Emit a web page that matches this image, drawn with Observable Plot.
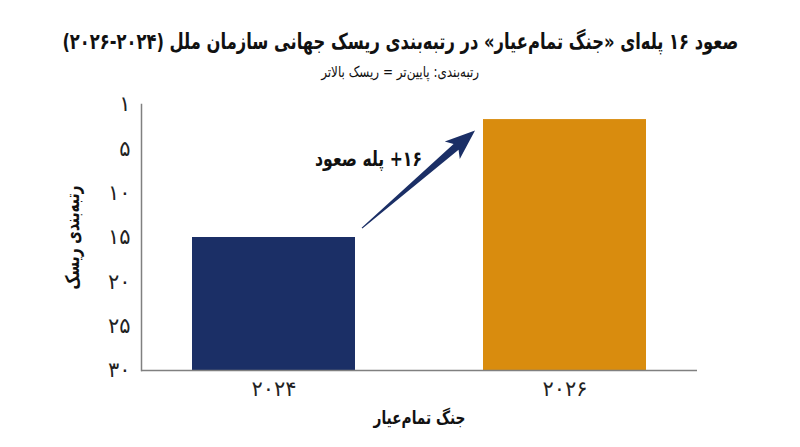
<!DOCTYPE html>
<html>
<head>
<meta charset="utf-8">
<script src="https://cdn.jsdelivr.net/npm/d3@7"></script>
<script src="https://cdn.jsdelivr.net/npm/@observablehq/plot@0.6"></script>
<style>
  html, body { margin: 0; padding: 0; background: #fff; }
  #wrap { position: relative; width: 800px; height: 447px; overflow: hidden; font-family: "DejaVu Sans", "Noto Sans", sans-serif; color: #111; }
  #title { position: absolute; left: -400px; top: 27px; width: 1600px; text-align: center; font-size: 22px; font-weight: bold; line-height: 30px; direction: rtl; white-space: nowrap; }
  #subtitle { position: absolute; left: -400px; top: 62px; width: 1600px; text-align: center; font-size: 15px; line-height: 20px; direction: rtl; white-space: nowrap; }
  #chart { position: absolute; left: 0; top: 85px; }
  .fit { display: inline-block; transform-origin: 50% 50%; }
</style>
</head>
<body>
<div id="wrap">
  <div id="title"><span class="fit" id="titleSpan"></span></div>
  <div id="subtitle"><span class="fit" id="subSpan"></span></div>
  <div id="chart"></div>
</div>
<script>
// ---- data ----
const years = ["2024", "2026"];
const yearLabels = ["۲۰۲۴", "۲۰۲۶"];
const ranks = [15, 1.7];
const barColors = ["#1b2f66", "#d98c0e"];
const baselineRank = 30;
const rankTicks = [0, 5, 10, 15, 20, 25, 30];
const rankTickLabels = ["۱", "۵", "۱۰", "۱۵", "۲۰", "۲۵", "۳۰"];
const arrowFrom = { year: "2024", rank: 14 };
const arrowTo = { year: "2026", rank: 3 };
const arrowLabel = "\u2066+۱۶\u2069 پله صعود";
const titleText = "صعود ۱۶ پله‌ای «جنگ تمام‌عیار» در رتبه‌بندی ریسک جهانی سازمان ملل (۲۰۲۴\u200F-\u200F۲۰۲۶)";
const subtitleText = "رتبه‌بندی: پایین‌تر = ریسک بالاتر";
const xLabel = "جنگ تمام‌عیار";
const yLabel = "رتبه‌بندی ریسک";

const FONT = '"DejaVu Sans", "Noto Sans", sans-serif';

// title / subtitle, horizontally fitted to the reference widths
function fitText(id, text, targetWidth) {
  const el = document.getElementById(id);
  el.textContent = text;
  const w = el.getBoundingClientRect().width;
  if (w > targetWidth) el.style.transform = "scaleX(" + (targetWidth / w).toFixed(4) + ")";
}
fitText("titleSpan", titleText, 676);
fitText("subSpan", subtitleText, 158);

const data = years.map((y, i) => ({ year: y, rank: ranks[i], color: barColors[i] }));

const plot = Plot.plot({
  width: 800,
  height: 362,
  marginTop: 19,
  marginBottom: 77,
  marginLeft: 141,
  marginRight: 103,
  style: { fontFamily: FONT, fontSize: "16px", color: "#111", background: "#fff" },
  x: { domain: years, paddingInner: 0.441, paddingOuter: 0.174, label: null },
  y: { domain: [baselineRank, 0], label: null },
  color: { type: "identity" },
  marks: [
    Plot.barY(data, { x: "year", y1: () => baselineRank, y2: "rank", fill: "color" }),
    Plot.axisX({ tickSize: 0, tickPadding: 11, fontSize: 21,
      tickFormat: d => yearLabels[years.indexOf(d)],
      label: xLabel, labelAnchor: "center", labelOffset: 53 }),
    Plot.axisY({ ticks: rankTicks, tickSize: 0, tickPadding: 11, fontSize: 21,
      tickFormat: d => rankTickLabels[rankTicks.indexOf(d)],
      label: yLabel, labelAnchor: "center", labelOffset: 76 }),
    Plot.ruleY([baselineRank], { stroke: "#808080", strokeWidth: 1.5 }),
    Plot.frame({ anchor: "left", stroke: "#808080", strokeWidth: 1.5 })
  ]
});
document.getElementById("chart").appendChild(plot);

const svg = d3.select(plot);
svg.selectAll('g[aria-label="x-axis tick label"] text, g[aria-label="y-axis tick label"] text')
  .attr("fill", "#222");
svg.selectAll('g[aria-label="x-axis label"] text')
  .attr("font-weight", "bold").attr("font-size", 18).attr("fill", "#111")
  .attr("textLength", 92).attr("lengthAdjust", "spacingAndGlyphs").text(xLabel);
svg.selectAll('g[aria-label="y-axis label"] text')
  .attr("font-weight", "bold").attr("font-size", 19).attr("fill", "#111")
  .attr("textLength", 104).attr("lengthAdjust", "spacingAndGlyphs").text(yLabel);

// ---- tapered arrow, positioned through the plot's scales ----
const sx = plot.scale("x"), sy = plot.scale("y");
const bw = sx.bandwidth;
const tx = sx.apply(arrowFrom.year) + bw + 7, ty = sy.apply(arrowFrom.rank);
const hx = sx.apply(arrowTo.year) - 8, hy = sy.apply(arrowTo.rank);
const dx = hx - tx, dy = hy - ty, len = Math.hypot(dx, dy);
const ux = dx / len, uy = dy / len, nx = -uy, ny = ux;
const headLen = 28, headHalf = 11.5, shaftHalf = 3.8, tailHalf = 0.6;
const bx = hx - ux * headLen, by = hy - uy * headLen;
const pts = [
  [tx + nx * tailHalf, ty + ny * tailHalf],
  [bx + nx * shaftHalf + ux * 3, by + ny * shaftHalf + uy * 3],
  [bx + nx * headHalf - ux * 2, by + ny * headHalf - uy * 2],
  [hx, hy],
  [bx - nx * headHalf - ux * 2, by - ny * headHalf - uy * 2],
  [bx - nx * shaftHalf + ux * 3, by - ny * shaftHalf + uy * 3],
  [tx - nx * tailHalf, ty - ny * tailHalf]
];
svg.append("path")
  .attr("d", "M" + pts.map(p => p.join(",")).join("L") + "Z")
  .attr("fill", barColors[0]);

svg.append("text")
  .attr("x", (tx + hx) / 2 - 50)
  .attr("y", (ty + hy) / 2 - 19)
  .attr("text-anchor", "middle")
  .attr("dominant-baseline", "middle")
  .style("direction", "rtl")
  .attr("font-family", FONT)
  .attr("font-weight", "bold")
  .attr("font-size", 21)
  .attr("textLength", 107)
  .attr("lengthAdjust", "spacingAndGlyphs")
  .attr("fill", "#111")
  .text(arrowLabel);
</script>
</body>
</html>
